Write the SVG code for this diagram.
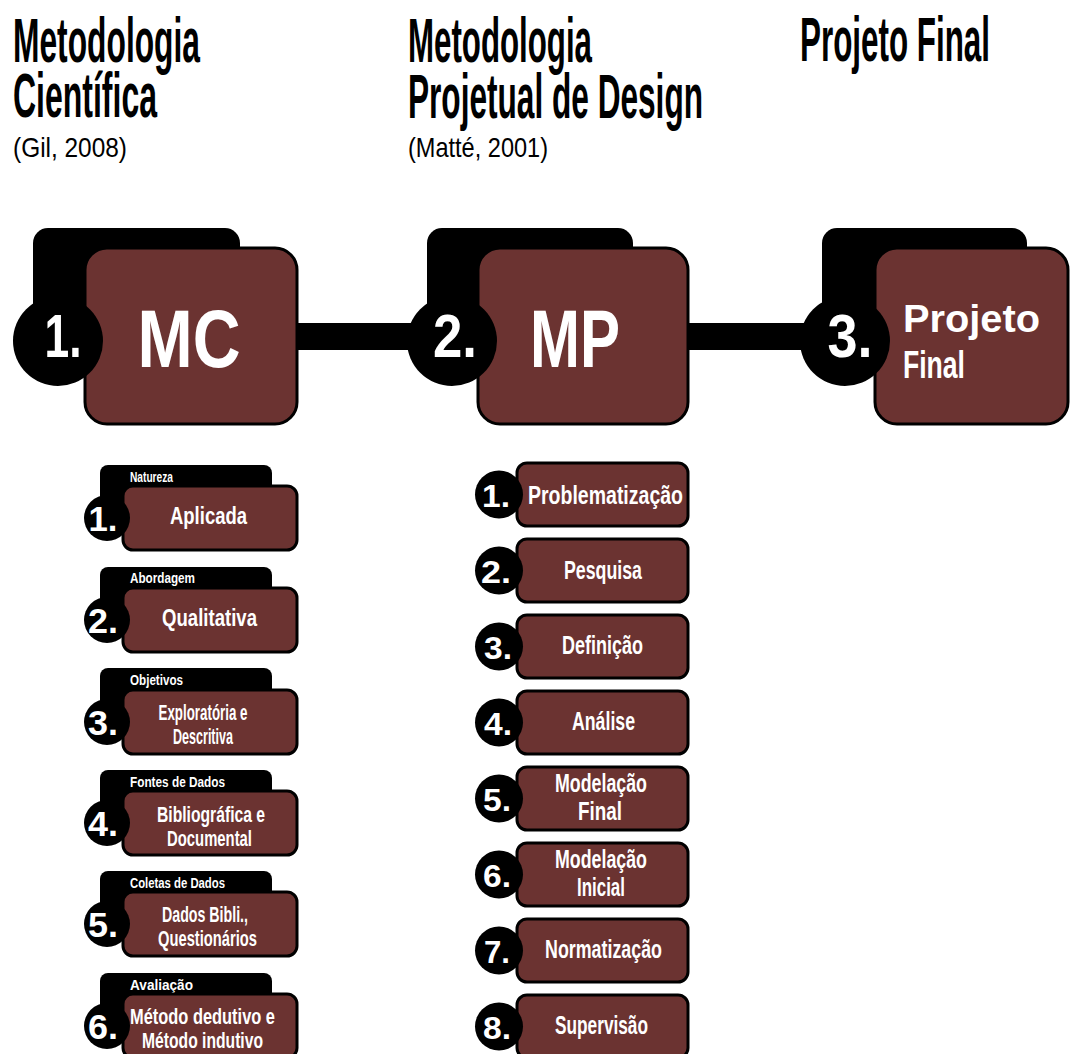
<svg xmlns="http://www.w3.org/2000/svg" width="1071" height="1054" viewBox="0 0 1071 1054">
<style>
text{font-family:"Liberation Sans",Arial,sans-serif;font-weight:700}
.tab{fill:#000}
.card{fill:#6b3331;stroke:#000;stroke-width:3}
.dot{fill:#000}
.wt{fill:#fff}
.hd{fill:#000;font-size:63px}
.ref{fill:#000;font-size:28px;font-weight:400}
.big{font-size:82px;text-anchor:middle}
.bn{font-size:61px;text-anchor:middle}
.pf{font-size:38px}
.lbl{fill:#fff;font-size:14px}
.it{font-size:23px;text-anchor:middle}
.it2{font-size:22px;text-anchor:middle}
.num{font-size:35px;text-anchor:middle}
.mt{font-size:25px;text-anchor:middle}
.mn{font-size:32px;text-anchor:middle}
</style>
<rect width="1071" height="1054" fill="#fff"/>
<g id="headers">
<text class="hd" x="13" y="62" textLength="187" lengthAdjust="spacingAndGlyphs">Metodologia</text>
<text class="hd" x="13" y="117" textLength="144" lengthAdjust="spacingAndGlyphs">Científica</text>
<text class="ref" x="13" y="157" textLength="114" lengthAdjust="spacingAndGlyphs">(Gil, 2008)</text>
<text class="hd" x="408" y="62" textLength="184" lengthAdjust="spacingAndGlyphs">Metodologia</text>
<text class="hd" x="408" y="118" textLength="295" lengthAdjust="spacingAndGlyphs">Projetual de Design</text>
<text class="ref" x="408" y="157" textLength="140" lengthAdjust="spacingAndGlyphs">(Matté, 2001)</text>
<text class="hd" x="800" y="61" textLength="190" lengthAdjust="spacingAndGlyphs">Projeto Final</text>
</g>
<g id="connectors">
<rect x="290" y="323" width="130" height="27" fill="#000"/>
<rect x="680" y="323" width="130" height="27" fill="#000"/>
</g>
<g id="node-mc">
<rect class="tab" x="33" y="228" width="207" height="110" rx="15"/>
<rect class="card" x="85" y="248" width="212" height="176" rx="22"/>
<circle class="dot" cx="58" cy="341" r="45"/>
<text class="bn wt" x="63" y="357" textLength="37" lengthAdjust="spacingAndGlyphs">1.</text>
<text class="big wt" x="189" y="367" textLength="103" lengthAdjust="spacingAndGlyphs">MC</text>
</g>
<g id="node-mp">
<rect class="tab" x="427" y="228" width="206" height="110" rx="15"/>
<rect class="card" x="478" y="248" width="210" height="176" rx="22"/>
<circle class="dot" cx="452" cy="341" r="45"/>
<text class="bn wt" x="455" y="357" textLength="44" lengthAdjust="spacingAndGlyphs">2.</text>
<text class="big wt" x="575" y="367" textLength="90" lengthAdjust="spacingAndGlyphs">MP</text>
</g>
<g id="node-pf">
<rect class="tab" x="822" y="228" width="205" height="110" rx="15"/>
<rect class="card" x="875" y="248" width="193" height="176" rx="22"/>
<circle class="dot" cx="845" cy="341" r="45"/>
<text class="bn wt" x="850" y="357" textLength="45" lengthAdjust="spacingAndGlyphs">3.</text>
<text class="pf wt" x="903" y="332" textLength="137" lengthAdjust="spacingAndGlyphs">Projeto</text>
<text class="pf wt" x="903" y="378" textLength="62" lengthAdjust="spacingAndGlyphs">Final</text>
</g>
<g id="mc-1">
<rect class="tab" x="100" y="465" width="172" height="50" rx="8"/>
<text class="lbl" x="130" y="482" textLength="43" lengthAdjust="spacingAndGlyphs">Natureza</text>
<rect class="card" x="123" y="486" width="174" height="64" rx="10"/>
<circle class="dot" cx="107" cy="518" r="23"/>
<text class="num wt" x="103" y="531" textLength="29" lengthAdjust="spacingAndGlyphs">1.</text>
<text class="it wt" x="208.5" y="524" textLength="77" lengthAdjust="spacingAndGlyphs">Aplicada</text>
</g>
<g id="mc-2">
<rect class="tab" x="100" y="567" width="172" height="50" rx="8"/>
<text class="lbl" x="130" y="583" textLength="65" lengthAdjust="spacingAndGlyphs">Abordagem</text>
<rect class="card" x="123" y="588" width="174" height="64" rx="10"/>
<circle class="dot" cx="107" cy="620" r="23"/>
<text class="num wt" x="103" y="633" textLength="30" lengthAdjust="spacingAndGlyphs">2.</text>
<text class="it wt" x="209.5" y="626" textLength="95" lengthAdjust="spacingAndGlyphs">Qualitativa</text>
</g>
<g id="mc-3">
<rect class="tab" x="100" y="668" width="172" height="50" rx="8"/>
<text class="lbl" x="130" y="685" textLength="53" lengthAdjust="spacingAndGlyphs">Objetivos</text>
<rect class="card" x="123" y="690" width="174" height="64" rx="10"/>
<circle class="dot" cx="107" cy="722" r="23"/>
<text class="num wt" x="103" y="735" textLength="30" lengthAdjust="spacingAndGlyphs">3.</text>
<text class="it2 wt" x="203" y="720" textLength="89" lengthAdjust="spacingAndGlyphs">Exploratória e</text>
<text class="it2 wt" x="203" y="744" textLength="60" lengthAdjust="spacingAndGlyphs">Descritiva</text>
</g>
<g id="mc-4">
<rect class="tab" x="100" y="770" width="172" height="50" rx="8"/>
<text class="lbl" x="130" y="787" textLength="95" lengthAdjust="spacingAndGlyphs">Fontes de Dados</text>
<rect class="card" x="123" y="791" width="174" height="64" rx="10"/>
<circle class="dot" cx="107" cy="823" r="23"/>
<text class="num wt" x="103" y="836" textLength="30" lengthAdjust="spacingAndGlyphs">4.</text>
<text class="it2 wt" x="211" y="822" textLength="108" lengthAdjust="spacingAndGlyphs">Bibliográfica e</text>
<text class="it2 wt" x="209.5" y="846" textLength="85" lengthAdjust="spacingAndGlyphs">Documental</text>
</g>
<g id="mc-5">
<rect class="tab" x="100" y="871" width="172" height="50" rx="8"/>
<text class="lbl" x="130" y="888" textLength="95" lengthAdjust="spacingAndGlyphs">Coletas de Dados</text>
<rect class="card" x="123" y="892" width="174" height="64" rx="10"/>
<circle class="dot" cx="107" cy="924" r="23"/>
<text class="num wt" x="103" y="937" textLength="30" lengthAdjust="spacingAndGlyphs">5.</text>
<text class="it2 wt" x="205" y="922" textLength="86" lengthAdjust="spacingAndGlyphs">Dados Bibli.,</text>
<text class="it2 wt" x="207.5" y="946" textLength="99" lengthAdjust="spacingAndGlyphs">Questionários</text>
</g>
<g id="mc-6">
<rect class="tab" x="100" y="973" width="172" height="50" rx="8"/>
<text class="lbl" x="130" y="990" textLength="63" lengthAdjust="spacingAndGlyphs">Avaliação</text>
<rect class="card" x="123" y="994" width="174" height="64" rx="10"/>
<circle class="dot" cx="107" cy="1026" r="23"/>
<text class="num wt" x="103" y="1039" textLength="30" lengthAdjust="spacingAndGlyphs">6.</text>
<text class="it2 wt" x="202.5" y="1024" textLength="145" lengthAdjust="spacingAndGlyphs">Método dedutivo e</text>
<text class="it2 wt" x="202.5" y="1048" textLength="121" lengthAdjust="spacingAndGlyphs">Método indutivo</text>
</g>
<g id="mp-1">
<rect class="card" x="517" y="463" width="171" height="63" rx="10"/>
<circle class="dot" cx="499" cy="494.5" r="24"/>
<text class="mn wt" x="496" y="507" textLength="28" lengthAdjust="spacingAndGlyphs">1.</text>
<text class="mt wt" x="605.5" y="504" textLength="155" lengthAdjust="spacingAndGlyphs">Problematização</text>
</g>
<g id="mp-2">
<rect class="card" x="517" y="539" width="171" height="63" rx="10"/>
<circle class="dot" cx="499" cy="570.5" r="24"/>
<text class="mn wt" x="496" y="583" textLength="30" lengthAdjust="spacingAndGlyphs">2.</text>
<text class="mt wt" x="603" y="579" textLength="78" lengthAdjust="spacingAndGlyphs">Pesquisa</text>
</g>
<g id="mp-3">
<rect class="card" x="517" y="615" width="171" height="63" rx="10"/>
<circle class="dot" cx="499" cy="646.5" r="24"/>
<text class="mn wt" x="498" y="659" textLength="28" lengthAdjust="spacingAndGlyphs">3.</text>
<text class="mt wt" x="602.5" y="654" textLength="81" lengthAdjust="spacingAndGlyphs">Definição</text>
</g>
<g id="mp-4">
<rect class="card" x="517" y="691" width="171" height="63" rx="10"/>
<circle class="dot" cx="499" cy="722.5" r="24"/>
<text class="mn wt" x="498" y="735" textLength="28" lengthAdjust="spacingAndGlyphs">4.</text>
<text class="mt wt" x="603.5" y="730" textLength="63" lengthAdjust="spacingAndGlyphs">Análise</text>
</g>
<g id="mp-5">
<rect class="card" x="517" y="767" width="171" height="63" rx="10"/>
<circle class="dot" cx="499" cy="798.5" r="24"/>
<text class="mn wt" x="497" y="811" textLength="28" lengthAdjust="spacingAndGlyphs">5.</text>
<text class="mt wt" x="601" y="792" textLength="92" lengthAdjust="spacingAndGlyphs">Modelação</text>
<text class="mt wt" x="600" y="820" textLength="44" lengthAdjust="spacingAndGlyphs">Final</text>
</g>
<g id="mp-6">
<rect class="card" x="517" y="843" width="171" height="63" rx="10"/>
<circle class="dot" cx="499" cy="874.5" r="24"/>
<text class="mn wt" x="497" y="887" textLength="28" lengthAdjust="spacingAndGlyphs">6.</text>
<text class="mt wt" x="601" y="868" textLength="92" lengthAdjust="spacingAndGlyphs">Modelação</text>
<text class="mt wt" x="601" y="896" textLength="48" lengthAdjust="spacingAndGlyphs">Inicial</text>
</g>
<g id="mp-7">
<rect class="card" x="517" y="919" width="171" height="63" rx="10"/>
<circle class="dot" cx="499" cy="950.5" r="24"/>
<text class="mn wt" x="497" y="963" textLength="26" lengthAdjust="spacingAndGlyphs">7.</text>
<text class="mt wt" x="603.5" y="958" textLength="117" lengthAdjust="spacingAndGlyphs">Normatização</text>
</g>
<g id="mp-8">
<rect class="card" x="517" y="995" width="171" height="63" rx="10"/>
<circle class="dot" cx="499" cy="1026.5" r="24"/>
<text class="mn wt" x="497" y="1039" textLength="28" lengthAdjust="spacingAndGlyphs">8.</text>
<text class="mt wt" x="601.5" y="1034" textLength="93" lengthAdjust="spacingAndGlyphs">Supervisão</text>
</g>
</svg>
